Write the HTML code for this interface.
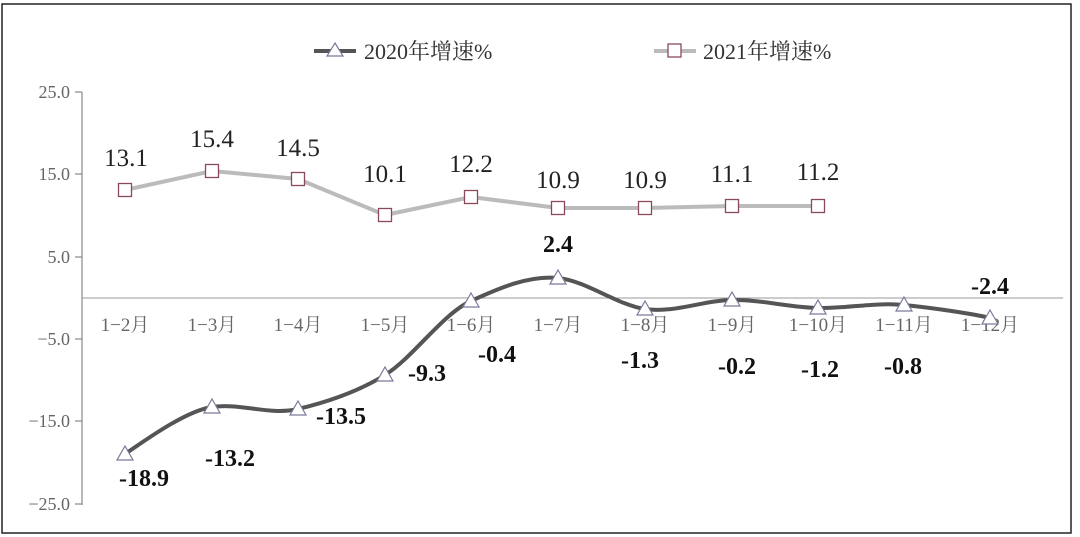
<!DOCTYPE html>
<html><head><meta charset="utf-8"><style>
html,body{margin:0;padding:0;background:#fff;}
svg{display:block;}
text{font-family:"Liberation Serif","Noto Serif CJK SC",serif;}
</style></head><body>
<svg width="1080" height="537" viewBox="0 0 1080 537" xmlns="http://www.w3.org/2000/svg">
<rect x="2" y="4" width="1069" height="529" fill="#fff" stroke="#222" stroke-width="1.5"/>
<!-- legend -->
<line x1="314" y1="51" x2="356" y2="51" stroke="#555" stroke-width="4"/>
<polygon points="335,43 343,56 327,56" fill="#fff" stroke="#7a7a9a" stroke-width="1.2"/>
<text x="364" y="59" font-size="22" fill="#333">2020年增速%</text>
<line x1="654" y1="51" x2="696" y2="51" stroke="#bbb" stroke-width="4"/>
<rect x="668" y="44" width="13" height="13" fill="#fff" stroke="#8a4a5a" stroke-width="1.3"/>
<text x="703" y="59" font-size="22" fill="#333">2021年增速%</text>
<!-- y axis -->
<line x1="82" y1="92" x2="82" y2="505" stroke="#888" stroke-width="1.2"/>
<g stroke="#888" stroke-width="1.2">
<line x1="75" y1="92" x2="82" y2="92"/><line x1="75" y1="174" x2="82" y2="174"/>
<line x1="75" y1="257" x2="82" y2="257"/><line x1="75" y1="339" x2="82" y2="339"/>
<line x1="75" y1="421" x2="82" y2="421"/><line x1="75" y1="504" x2="82" y2="504"/>
</g>
<g font-size="18" fill="#666" text-anchor="end">
<text x="70" y="98">25.0</text><text x="70" y="180">15.0</text><text x="70" y="263">5.0</text>
<text x="70" y="345">−5.0</text><text x="70" y="427">−15.0</text><text x="70" y="510">−25.0</text>
</g>
<line x1="82" y1="298" x2="1063" y2="298" stroke="#999" stroke-width="1"/>
<!-- x labels -->
<g font-size="19" fill="#666" text-anchor="middle">
<text x="125" y="331">1−2月</text><text x="212" y="331">1−3月</text><text x="298" y="331">1−4月</text>
<text x="385" y="331">1−5月</text><text x="471" y="331">1−6月</text><text x="558" y="331">1−7月</text>
<text x="645" y="331">1−8月</text><text x="732" y="331">1−9月</text><text x="818" y="331">1−10月</text>
<text x="904" y="331">1−11月</text><text x="990" y="331">1−12月</text>
</g>
<!-- 2021 -->
<polyline points="125,190 212,171 298,179 385,215 471,197 558,208 645,208 732,206 818,206" fill="none" stroke="#bbb" stroke-width="4"/>
<g fill="#fff" stroke="#8a4a5a" stroke-width="1.3">
<rect x="118.5" y="183.5" width="13" height="13"/><rect x="205.5" y="164.5" width="13" height="13"/>
<rect x="291.5" y="172.5" width="13" height="13"/><rect x="378.5" y="208.5" width="13" height="13"/>
<rect x="464.5" y="190.5" width="13" height="13"/><rect x="551.5" y="201.5" width="13" height="13"/>
<rect x="638.5" y="201.5" width="13" height="13"/><rect x="725.5" y="199.5" width="13" height="13"/>
<rect x="811.5" y="199.5" width="13" height="13"/>
</g>
<g font-size="25" fill="#222" text-anchor="middle">
<text x="126" y="166">13.1</text><text x="212" y="147">15.4</text><text x="298" y="156">14.5</text>
<text x="385" y="182">10.1</text><text x="471" y="172">12.2</text><text x="558" y="188">10.9</text>
<text x="645" y="188">10.9</text><text x="732" y="182">11.1</text><text x="818" y="180">11.2</text>
</g>
<!-- 2020 smooth -->
<path d="M125,454 C139.5,444.6 183.5,411.4 212,407 C240.5,402.6 269.3,415.8 298,409 C326.7,402.2 356.8,392.5 385,375 C413.2,357.5 442.2,314.2 471,301 C499.8,287.8 529.3,275.1 558,278 C586.7,280.9 616.2,304.7 645,309 C673.8,313.3 703,300.5 732,300 C761,299.5 789.1,307.5 818,308 C846.9,308.5 875.3,302.2 904,305 C932.7,307.8 975.7,314.2 990,318" fill="none" stroke="#555" stroke-width="4"/>
<g fill="#fff" stroke="#7a7a9a" stroke-width="1.2">
<polygon points="125,446 133,460 117,460"/><polygon points="212,399 220,413 204,413"/>
<polygon points="298,401 306,415 290,415"/><polygon points="385,367 393,381 377,381"/>
<polygon points="471,293 479,307 463,307"/><polygon points="558,270 566,284 550,284"/>
<polygon points="645,301 653,315 637,315"/><polygon points="732,292 740,306 724,306"/>
<polygon points="818,300 826,314 810,314"/><polygon points="904,297 912,311 896,311"/>
<polygon points="990,310 998,324 982,324"/>
</g>
<g font-size="24" font-weight="bold" fill="#111" text-anchor="middle">
<text x="144" y="486">-18.9</text><text x="230" y="466">-13.2</text><text x="341" y="424">-13.5</text>
<text x="427" y="381">-9.3</text><text x="497" y="362">-0.4</text><text x="558" y="252">2.4</text>
<text x="640" y="368">-1.3</text><text x="737" y="374">-0.2</text><text x="820" y="377">-1.2</text>
<text x="903" y="374">-0.8</text><text x="990" y="294">-2.4</text>
</g>
</svg>
</body></html>
